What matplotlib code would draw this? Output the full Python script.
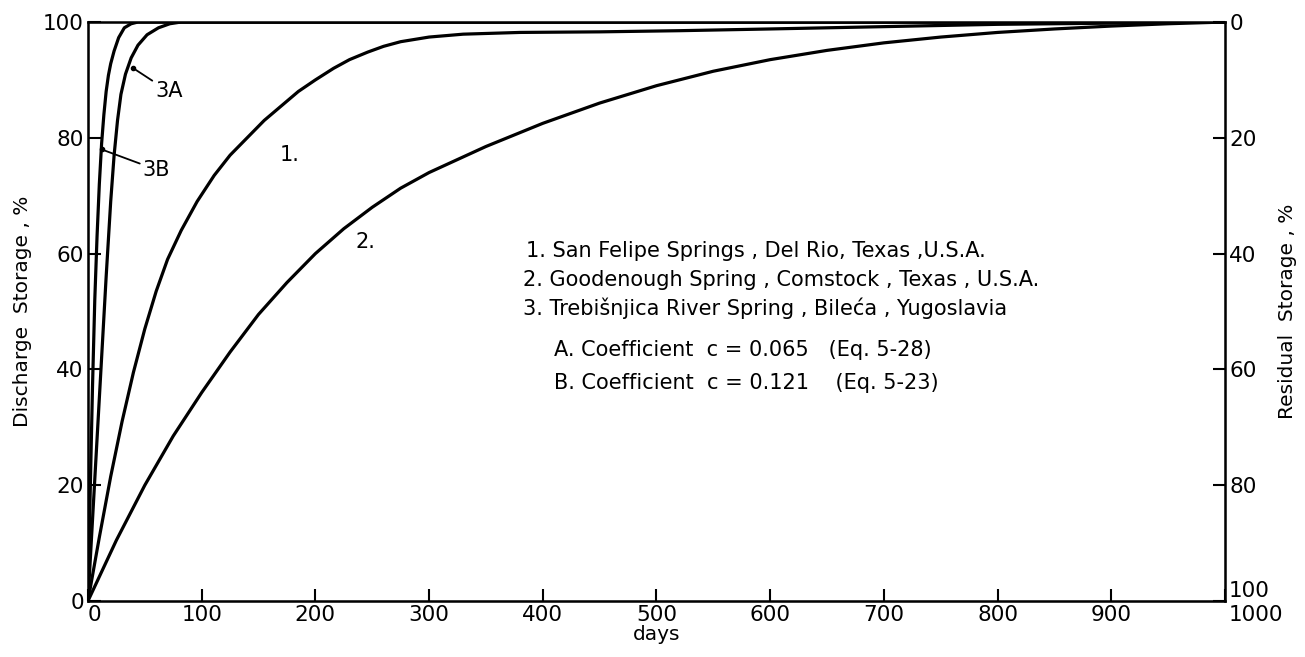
import matplotlib.pyplot as plt
from matplotlib.transforms import ScaledTranslation

plt.rcParams['font.family'] = ['DejaVu Sans']

# curve 1 - San Felipe Springs
days_1 = [0, 10, 20, 30, 40, 50, 60, 70, 82, 96, 111, 125, 140, 155, 170, 185, 200,
          216, 230, 246, 260, 275, 300, 330, 380, 450, 520, 600, 700, 800, 900, 1000]
disch_1 = [0, 11, 21.5, 31, 39.5, 47, 53.5, 59, 64, 69, 73.5, 77, 80, 83, 85.5, 88, 90,
           92, 93.5, 94.8, 95.8, 96.6, 97.4, 97.9, 98.2, 98.3, 98.5, 98.8, 99.2, 99.6, 99.8, 100]

# curve 2 - Goodenough Spring
days_2 = [0, 25, 50, 75, 100, 125, 150, 175, 200, 225, 250, 275, 300, 350, 400,
          450, 500, 550, 600, 650, 700, 750, 800, 850, 900, 950, 1000]
disch_2 = [0, 10.5, 20, 28.5, 36, 43, 49.5, 55, 60, 64.3, 68, 71.3, 74, 78.5, 82.5,
           86, 89, 91.5, 93.5, 95.1, 96.4, 97.4, 98.2, 98.8, 99.3, 99.7, 100]

# curve 3A - Trebisnjica, c = 0.065
days_3a = [0, 4, 8, 12, 16, 20, 23, 26, 29, 33, 38, 44, 52, 62, 72, 82, 1000]
disch_3a = [0, 14, 28, 42, 56, 69, 77, 83, 87.5, 91, 93.8, 96, 97.8, 99, 99.7, 100, 100]

# curve 3B - Trebisnjica, c = 0.121
days_3b = [0, 2, 4, 6, 8, 10, 12, 14, 16, 18, 20, 23, 27, 32, 38, 44, 1000]
disch_3b = [0, 19, 37, 52, 63, 72, 79, 84, 88, 90.8, 92.8, 95, 97.3, 99, 99.7, 100, 100]

x_ticks = [0, 100, 200, 300, 400, 500, 600, 700, 800, 900, 1000]
y_ticks = [0, 20, 40, 60, 80, 100]

legend_lines = [
    '1. San Felipe Springs , Del Rio, Texas ,U.S.A.',
    '2. Goodenough Spring , Comstock , Texas , U.S.A.',
    '3. Trebišnjica River Spring , Bileća , Yugoslavia',
    'A. Coefficient  c = 0.065   (Eq. 5-28)',
    'B. Coefficient  c = 0.121    (Eq. 5-23)',
]

fig = plt.figure(figsize=(13.05, 6.57), dpi=100)
ax = fig.add_axes([0.0674, 0.0852, 0.8713, 0.8813])

lw = 2.3
ax.plot(days_1, disch_1, color='black', lw=lw)
ax.plot(days_2, disch_2, color='black', lw=lw)
ax.plot(days_3a, disch_3a, color='black', lw=lw)
ax.plot(days_3b, disch_3b, color='black', lw=lw)

ax.set_xlim(0, 1000)
ax.set_ylim(0, 100)
ax.set_xticks(x_ticks)
ax.set_yticks(y_ticks)
ax.tick_params(direction='in', length=9, width=1.5, labelsize=15.5, pad=3)
for s in ax.spines.values():
    s.set_linewidth(1.8)

ax.set_xlabel('days', fontsize=14.5, labelpad=0)
ax.set_ylabel('Discharge  Storage , %', fontsize=14.5, labelpad=8)

ax2 = ax.twinx()
ax2.set_ylim(100, 0)
ax2.set_yticks(y_ticks)
ax2.tick_params(direction='in', length=9, width=1.5, labelsize=15.5, pad=3)
ax2.set_ylabel('Residual  Storage , %', fontsize=14.5, labelpad=6)

# nudge the corner labels apart
xl = ax.get_xticklabels()
xl[0].set_ha('left')
xl[-1].set_ha('left')
xl[-1].set_transform(xl[-1].get_transform() + ScaledTranslation(0.04, 0, fig.dpi_scale_trans))
ax2.get_yticklabels()[-1].set_va('bottom')

# curve labels
ax.text(177, 77, '1.', fontsize=15, ha='center', va='center')
ax.text(244, 62, '2.', fontsize=15, ha='center', va='center')
ax.annotate('3A', xy=(40, 92), xytext=(59, 88), fontsize=15, ha='left', va='center',
            arrowprops=dict(arrowstyle='-', color='black', lw=1.3, shrinkA=0, shrinkB=0))
ax.annotate('3B', xy=(12, 78), xytext=(48, 74.5), fontsize=15, ha='left', va='center',
            arrowprops=dict(arrowstyle='-', color='black', lw=1.3, shrinkA=0, shrinkB=0))
ax.plot([40, 12], [92, 78], 'o', color='black', ms=3)

# key
key_y = [60.5, 55.5, 50.5, 43.3, 37.6]
key_x = [385, 383, 383, 410, 410]
for tx, ty, line in zip(key_x, key_y, legend_lines):
    ax.text(tx, ty, line, fontsize=15, ha='left', va='center')

fig.savefig('out.png', dpi=100)
